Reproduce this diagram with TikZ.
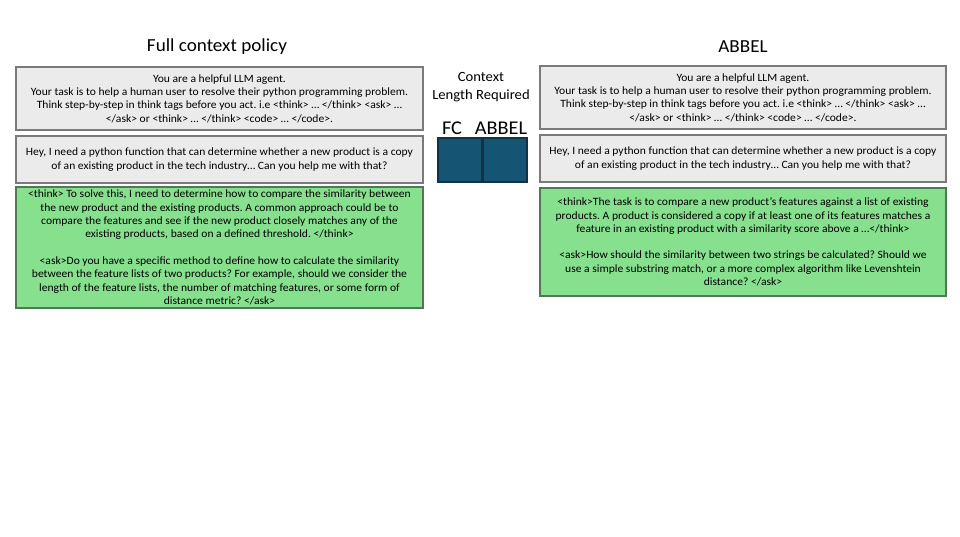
\documentclass[tikz,border=0pt]{standalone}
\usepackage{fontspec}
\setmainfont[FakeStretch=1.04]{Carlito}
\frenchspacing
\begin{document}
\begin{tikzpicture}[x=1pt,y=-1pt,
  graybox/.style={draw=black!52,line width=1.5pt,fill=black!8,inner sep=0pt},
  greenbox/.style={draw={rgb,255:red,80;green,120;blue,84},line width=1.5pt,fill={rgb,255:red,134;green,224;blue,142},inner sep=0pt},
  txt/.style={align=center,font=\fontsize{11.15}{13.3}\selectfont},
  ttl/.style={font=\fontsize{18.4}{20}\selectfont},
  ctx/.style={font=\fontsize{14.1}{18}\selectfont,align=center},
  lbl/.style={font=\fontsize{19.5}{20}\selectfont},
  bar/.style={draw={rgb,255:red,20;green,50;blue,70},line width=1.2pt,fill={rgb,255:red,22;green,84;blue,116}}]
\useasboundingbox (0,0) rectangle (960,537);
% titles
\node[ttl] (t1) at (217,47) {Full context policy};
\node[ttl] (t2) at (743,47) {ABBEL};
% left column
\draw[graybox] (16,67) rectangle (423,130);
\node[txt] (l1) at (219.5,98.5) {You are a helpful LLM agent.\\Your task is to help a human user to resolve their python programming problem.\\Think step-by-step in think tags before you act. i.e <think> \ldots{} </think> <ask> \ldots\\</ask> or <think> \ldots{} </think> <code> \ldots{} </code>.};
\draw[graybox] (16,136) rectangle (423,183);
\node[txt] (l2) at (219.5,159.5) {Hey, I need a python function that can determine whether a new product is a copy\\of an existing product in the tech industry\ldots{} Can you help me with that?};
\draw[greenbox] (16,187) rectangle (423,308);
\node[txt] (l3) at (219.5,247.5) {<think> To solve this, I need to determine how to compare the similarity between\\the new product and the existing products. A common approach could be to\\compare the features and see if the new product closely matches any of the\\existing products, based on a defined threshold. </think>\\[13.3pt]<ask>Do you have a specific method to define how to calculate the similarity\\between the feature lists of two products? For example, should we consider the\\length of the feature lists, the number of matching features, or some form of\\distance metric? </ask>};
% right column
\draw[graybox] (540,66) rectangle (946,129);
\node[txt] (r1) at (743,97.5) {You are a helpful LLM agent.\\Your task is to help a human user to resolve their python programming problem.\\Think step-by-step in think tags before you act. i.e <think> \ldots{} </think> <ask> \ldots\\</ask> or <think> \ldots{} </think> <code> \ldots{} </code>.};
\draw[graybox] (540,135) rectangle (946,182);
\node[txt] (r2) at (743,158.5) {Hey, I need a python function that can determine whether a new product is a copy\\of an existing product in the tech industry\ldots{} Can you help me with that?};
\draw[greenbox] (540,188) rectangle (946,296);
\node[txt] (r3) at (743,242) {<think>The task is to compare a new product's features against a list of existing\\products. A product is considered a copy if at least one of its features matches a\\feature in an existing product with a similarity score above a \ldots</think>\\[13.3pt]<ask>How should the similarity between two strings be calculated? Should we\\use a simple substring match, or a more complex algorithm like Levenshtein\\distance? </ask>};
% context length
\node[ctx] (c1) at (481,87) {Context\\Length Required};
\node[lbl] (fc) at (452,128) {FC};
\node[lbl] (ab) at (501,128) {ABBEL};
\draw[bar] (438,138) rectangle (482,182);
\draw[bar] (483,138) rectangle (527,182);
\end{tikzpicture}
\end{document}
